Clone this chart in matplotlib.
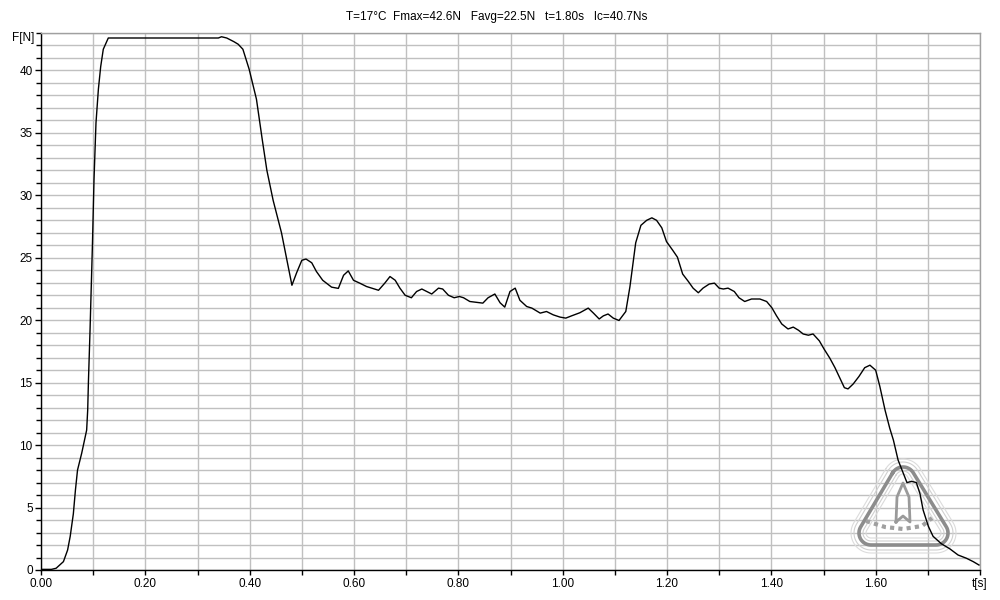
import matplotlib.pyplot as plt
import numpy as np
from matplotlib.ticker import MultipleLocator, FixedLocator

# thrust curve
time_s = [0.000, 0.020, 0.029, 0.043, 0.051, 0.056, 0.062, 0.066, 0.070, 0.078,
          0.0875, 0.0895, 0.091, 0.094, 0.0985, 0.1016, 0.1054, 0.110, 0.1144, 0.1194,
          0.129, 0.200, 0.300, 0.340, 0.346, 0.356, 0.370, 0.378, 0.387, 0.399,
          0.413, 0.424, 0.433, 0.445, 0.461, 0.481, 0.490, 0.500, 0.508, 0.519,
          0.528, 0.540, 0.557, 0.570, 0.580, 0.589, 0.599, 0.611, 0.624, 0.647,
          0.659, 0.669, 0.679, 0.688, 0.698, 0.710, 0.720, 0.730, 0.749, 0.762,
          0.770, 0.781, 0.792, 0.802, 0.810, 0.822, 0.847, 0.857, 0.870, 0.880,
          0.889, 0.899, 0.909, 0.918, 0.931, 0.941, 0.957, 0.969, 0.982, 0.995,
          1.006, 1.017, 1.033, 1.049, 1.059, 1.070, 1.078, 1.087, 1.097, 1.108,
          1.121, 1.129, 1.135, 1.140, 1.150, 1.161, 1.171, 1.180, 1.190, 1.199,
          1.211, 1.220, 1.230, 1.241, 1.250, 1.260, 1.269, 1.281, 1.291, 1.300,
          1.308, 1.317, 1.329, 1.338, 1.349, 1.362, 1.378, 1.391, 1.401, 1.410,
          1.420, 1.432, 1.442, 1.452, 1.461, 1.471, 1.480, 1.492, 1.501, 1.512,
          1.522, 1.532, 1.540, 1.547, 1.557, 1.568, 1.579, 1.589, 1.600, 1.608,
          1.618, 1.627, 1.634, 1.643, 1.653, 1.660, 1.669, 1.678, 1.685, 1.691,
          1.701, 1.710, 1.726, 1.742, 1.758, 1.774, 1.787, 1.798]
force_n = [0.05, 0.05, 0.14, 0.67, 1.6, 2.7, 4.5, 6.4, 8.0, 9.35,
           11.2, 12.8, 15.2, 19.2, 25.9, 31.25, 35.8, 38.5, 40.3, 41.7,
           42.6, 42.6, 42.6, 42.6, 42.7, 42.6, 42.3, 42.1, 41.7, 40.1,
           37.7, 34.5, 32.0, 29.6, 27.0, 22.8, 23.8, 24.8, 24.9, 24.6,
           23.9, 23.2, 22.65, 22.55, 23.6, 23.95, 23.2, 22.97, 22.7, 22.4,
           22.97, 23.5, 23.2, 22.57, 22.0, 21.8, 22.3, 22.5, 22.1, 22.57,
           22.5, 22.0, 21.8, 21.9, 21.8, 21.5, 21.37, 21.8, 22.1, 21.4,
           21.05, 22.3, 22.57, 21.6, 21.1, 20.97, 20.57, 20.7, 20.43, 20.25,
           20.17, 20.35, 20.6, 20.97, 20.57, 20.1, 20.35, 20.5, 20.17, 19.98,
           20.7, 22.7, 24.6, 26.2, 27.6, 28.0, 28.2, 28.0, 27.4, 26.3,
           25.6, 25.05, 23.7, 23.1, 22.57, 22.2, 22.57, 22.9, 22.97, 22.57,
           22.5, 22.57, 22.3, 21.8, 21.5, 21.7, 21.7, 21.5, 21.0, 20.35,
           19.7, 19.3, 19.45, 19.2, 18.9, 18.8, 18.9, 18.35, 17.7, 16.97,
           16.2, 15.3, 14.6, 14.5, 14.9, 15.5, 16.2, 16.4, 16.0, 14.7,
           12.8, 11.35, 10.4, 8.8, 7.75, 7.0, 7.1, 7.0, 6.1, 4.8,
           3.5, 2.7, 2.1, 1.7, 1.2, 0.94, 0.67, 0.4]

x_labels = ['0.00', '0.20', '0.40', '0.60', '0.80', '1.00', '1.20', '1.40', '1.60', 't[s]']
y_labels = ['0', '5', '10', '15', '20', '25', '30', '35', '40']
title = 'T=17°C  Fmax=42.6N   Favg=22.5N   t=1.80s   Ic=40.7Ns'

plt.rcParams['font.family'] = ['Liberation Sans', 'DejaVu Sans']
plt.rcParams['font.size'] = 8.5

fig = plt.figure(figsize=(10, 6), dpi=100)
ax = fig.add_axes([0.041, 0.05, 0.939, 0.895])

ax.set_xlim(0, 1.8)
ax.set_ylim(0, 43)

# grid every 0.1 s and every 1 N
ax.xaxis.set_major_locator(FixedLocator(np.arange(0, 1.81, 0.2)))
ax.xaxis.set_minor_locator(MultipleLocator(0.1))
ax.yaxis.set_major_locator(FixedLocator(np.arange(0, 41, 5)))
ax.yaxis.set_minor_locator(MultipleLocator(1))
ax.set_xticklabels(x_labels)
ax.set_yticklabels(y_labels)
ax.grid(which='both', color='#c0c0c0', linewidth=1.0)
ax.set_axisbelow(True)

ax.tick_params(which='both', direction='out', length=3.5, width=1, color='black', pad=2)
ax.tick_params(axis='y', which='major', length=4)
for s in ['left', 'bottom']:
    ax.spines[s].set_color('black')
    ax.spines[s].set_linewidth(1)
for s in ['top', 'right']:
    ax.spines[s].set_color('#a0a0a0')
    ax.spines[s].set_linewidth(1)

ax.text(-0.012, 42.6, 'F[N]', ha='right', va='center', fontsize=8.5)
fig.text(0.497, 0.971, title, ha='center', va='center', fontsize=8.5)


# faint logo watermark: rounded triangle, built in pixels, drawn in axes fraction
def rounded_tri(pts, r):
    pts = np.asarray(pts, float)
    out = []
    n = len(pts)
    for i in range(n):
        a, b, c = pts[i - 1], pts[i], pts[(i + 1) % n]
        e1 = b - a
        e2 = c - b
        n1 = np.array([e1[1], -e1[0]]) / np.hypot(*e1)
        n2 = np.array([e2[1], -e2[0]]) / np.hypot(*e2)
        a1 = np.arctan2(n1[1], n1[0])
        a2 = np.arctan2(n2[1], n2[0])
        if a2 < a1:
            a2 += 2 * np.pi
        ang = np.linspace(a1, a2, 20)
        out.append(np.column_stack([b[0] + r * np.cos(ang), b[1] + r * np.sin(ang)]))
    out = np.vstack(out + [out[0][:1]])
    return (out[:, 0] - 41) / 939, (570 - out[:, 1]) / 537


core = [(903, 479), (936, 533), (871, 533)]
for r, col, lw in [(20, '#dcdcdc', 0.8), (17, '#d0d0d0', 0.8), (12, '#8c8c8c', 2.6),
                   (8, '#cfcfcf', 0.8), (5, '#dadada', 0.8)]:
    wx, wy = rounded_tri(core, r)
    ax.plot(wx, wy, color=col, lw=lw, transform=ax.transAxes, zorder=2, clip_on=False)
# rocket silhouette and lettering band
rk = np.array([(896, 522), (897, 497), (903, 483), (909, 497), (910, 522), (903, 516), (896, 522)])
ax.plot((rk[:, 0] - 41) / 939, (570 - rk[:, 1]) / 537, color='#9a9a9a', lw=2,
        transform=ax.transAxes, zorder=2)
band = np.array([(866, 521), (885, 527), (903, 529), (922, 526), (932, 518)])
ax.plot((band[:, 0] - 41) / 939, (570 - band[:, 1]) / 537, color='#a0a0a0', lw=3, ls=(0, (1, 1)),
        transform=ax.transAxes, zorder=2)

ax.plot(time_s, force_n, color='black', linewidth=1.0, zorder=5)

fig.savefig('out.png', dpi=100)
